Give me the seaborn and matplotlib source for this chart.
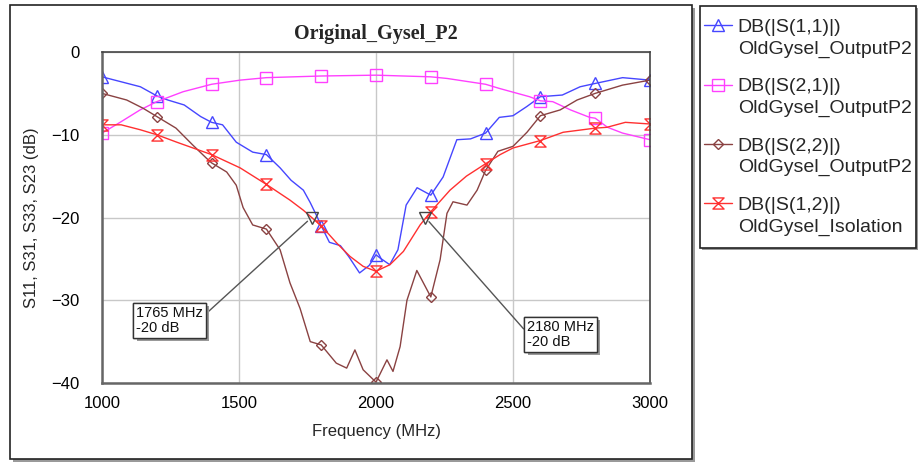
import numpy as np
import pandas as pd
import matplotlib
matplotlib.use("Agg")
import matplotlib.pyplot as plt
import seaborn as sns
from matplotlib.path import Path
from matplotlib.patches import Rectangle
from matplotlib.legend_handler import HandlerLine2D
import matplotlib.patheffects as pe

# ---------------- data ----------------
marker_grid = [1000, 1200, 1400, 1600, 1800, 2000, 2200, 2400, 2600, 2800, 3000]

freq_s11 = [1000, 1070, 1140, 1200, 1240, 1300, 1360, 1400, 1440, 1490, 1550, 1600,
            1650, 1690, 1735, 1760, 1785, 1800, 1830, 1870, 1900, 1940, 1975, 2000,
            2015, 2050, 2080, 2110, 2150, 2200, 2245, 2295, 2345, 2400, 2450, 2500,
            2550, 2600, 2680, 2745, 2800, 2900, 3000]
db_s11 = [-3.0, -3.6, -4.2, -5.3, -5.8, -6.4, -7.8, -8.5, -8.8, -10.9, -12.1, -12.4,
          -14.0, -15.5, -16.7, -18.2, -19.9, -21.0, -23.0, -23.4, -24.7, -26.7, -25.8, -24.5,
          -24.9, -25.7, -23.9, -18.5, -16.4, -17.3, -15.1, -10.6, -10.5, -9.8, -7.9, -7.7,
          -6.6, -5.4, -5.2, -4.2, -3.8, -3.1, -3.4]

freq_s21 = [1000, 1066, 1139, 1200, 1296, 1400, 1504, 1600, 1700, 1800, 1900, 2000,
            2100, 2200, 2260, 2320, 2400, 2450, 2560, 2600, 2645, 2710, 2780, 2800,
            2845, 2900, 3000]
db_s21 = [-9.8, -8.5, -7.0, -6.0, -4.8, -3.9, -3.4, -3.1, -3.0, -2.9, -2.85, -2.8,
          -2.9, -3.0, -3.2, -3.5, -3.9, -4.4, -5.4, -5.9, -6.0, -7.0, -7.9, -8.0,
          -9.1, -9.8, -10.6]

freq_s22 = [1000, 1090, 1150, 1200, 1270, 1330, 1380, 1400, 1455, 1490, 1515, 1550,
            1600, 1650, 1686, 1723, 1760, 1800, 1855, 1893, 1923, 1953, 2000, 2040,
            2062, 2088, 2113, 2149, 2200, 2234, 2259, 2281, 2332, 2369, 2400, 2445,
            2500, 2551, 2600, 2672, 2734, 2800, 2900, 3000]
db_s22 = [-5.0, -5.8, -6.8, -7.8, -9.2, -11.2, -12.8, -13.4, -14.5, -16.1, -18.8, -20.9,
          -21.4, -23.9, -27.9, -31.0, -35.0, -35.4, -37.6, -38.2, -36.0, -38.4, -39.9, -37.2,
          -38.6, -35.6, -30.0, -26.4, -29.6, -25.1, -19.5, -18.1, -18.5, -16.7, -14.3, -12.0,
          -11.4, -9.7, -7.7, -7.0, -5.8, -5.0, -4.0, -3.4]

freq_s12 = [1000, 1070, 1140, 1200, 1273, 1400, 1504, 1600, 1686, 1734, 1800, 1857,
            1905, 1953, 2000, 2051, 2100, 2161, 2200, 2270, 2330, 2400, 2453, 2500,
            2600, 2683, 2800, 2843, 2910, 3000]
db_s12 = [-8.8, -8.8, -9.4, -10.0, -10.9, -12.4, -14.0, -16.0, -17.9, -19.1, -21.0, -23.1,
          -24.7, -25.9, -26.5, -25.7, -24.1, -20.9, -19.3, -16.7, -15.0, -13.5, -12.4, -11.6,
          -10.7, -9.7, -9.2, -9.1, -8.5, -8.7]

labels = ["DB(|S(1,1)|)\nOldGysel_OutputP2",
          "DB(|S(2,1)|)\nOldGysel_OutputP2",
          "DB(|S(2,2)|)\nOldGysel_OutputP2",
          "DB(|S(1,2)|)\nOldGysel_Isolation"]

point_freqs = [1765, 2180]
point_vals = [-20, -20]
point_texts = ["1765 MHz\n-20 dB", "2180 MHz\n-20 dB"]
text_freqs = [1124, 2551]
text_vals = [-32.4, -34.1]

xticks = [1000, 1500, 2000, 2500, 3000]
yticks = [-40, -30, -20, -10, 0]

# ---------------- style ----------------
sns.set_style("white")
plt.rcParams["font.family"] = ["Liberation Sans", "DejaVu Sans"]
plt.rcParams["font.size"] = 12

W, H = 919, 462
fig = plt.figure(figsize=(W / 100, H / 100), dpi=100)
fig.patch.set_facecolor("white")

def fx(px):
    return px / W

def fy(py):
    return 1 - py / H

# outer frame with shadow
fig.add_artist(Rectangle((fx(13), fy(462)), fx(692 - 10), (459 - 5) / H,
                         transform=fig.transFigure, fc="#9a9a9a", ec="none", zorder=0))
fig.add_artist(Rectangle((fx(10), fy(459)), fx(692 - 10), (459 - 5) / H,
                         transform=fig.transFigure, fc="white", ec="#222222", lw=1.2, zorder=0.1))
# legend frame with shadow
fig.add_artist(Rectangle((fx(702), fy(250)), fx(916 - 700), (248 - 6) / H,
                         transform=fig.transFigure, fc="#9a9a9a", ec="none", zorder=0))
fig.add_artist(Rectangle((fx(700), fy(248)), fx(916 - 700), (248 - 6) / H,
                         transform=fig.transFigure, fc="white", ec="#222222", lw=1.2, zorder=0.1))

ax = fig.add_axes([fx(102), fy(383), fx(650 - 102), (383 - 52) / H])
ax.set_facecolor("white")
ax.set_zorder(1)

hourglass = Path([(-1, 1), (1, 1), (-1, -1), (1, -1), (-1, 1)],
                 [Path.MOVETO, Path.LINETO, Path.LINETO, Path.LINETO, Path.CLOSEPOLY])

series = [
    (freq_s11, db_s11, "#4646ff", "^", 8),
    (freq_s21, db_s21, "#ff40ff", "s", 9),
    (freq_s22, db_s22, "#8a4242", "D", 5.5),
    (freq_s12, db_s12, "#ff3030", hourglass, 8),
]

for (fr, db, col, mk, ms), lab in zip(series, labels):
    df = pd.DataFrame({"f": fr, "db": db})
    idx = [i for i, v in enumerate(fr) if v in marker_grid]
    sns.lineplot(data=df, x="f", y="db", ax=ax, color=col, lw=1.0, estimator=None,
                 sort=False, marker=mk, markersize=ms, markevery=idx,
                 markerfacecolor="none", markeredgecolor=col, markeredgewidth=1.0,
                 label=lab, legend=False)

# marker points with annotation boxes
ax.plot(point_freqs, point_vals, linestyle="none", marker="v", markersize=8,
        markerfacecolor="none", markeredgecolor="#444444", markeredgewidth=1.0, zorder=5)
for pf, pv, tx, tf, tv, rp in zip(point_freqs, point_vals, point_texts, text_freqs,
                                  text_vals, [(1.0, 0.62), (0.0, 0.55)]):
    t = ax.annotate(tx, xy=(pf, pv), xytext=(tf, tv), ha="left", va="center",
                    fontsize=10.5, color="#111111", linespacing=1.1,
                    bbox=dict(boxstyle="square,pad=0.2", fc="white", ec="#333333", lw=1),
                    arrowprops=dict(arrowstyle="-", color="#555555", lw=1, relpos=rp,
                                    shrinkA=0, shrinkB=4),
                    zorder=6)
    t.get_bbox_patch().set_path_effects([pe.withSimplePatchShadow(offset=(2.5, -2.5),
                                                                  shadow_rgbFace="#999999",
                                                                  alpha=1.0), pe.Normal()])

ax.set_xlim(1000, 3000)
ax.set_ylim(-40, 0)
ax.set_xticks(xticks)
ax.set_yticks(yticks)
ax.grid(True, color="#c8c8c8", lw=1)
ax.tick_params(axis="both", length=0, labelsize=12, colors="black")
ax.tick_params(axis="x", pad=9)
ax.tick_params(axis="y", pad=16)
for s in ["left", "bottom"]:
    ax.spines[s].set_color("#666666")
    ax.spines[s].set_linewidth(1.8)
for s in ["top", "right"]:
    ax.spines[s].set_color("#444444")
    ax.spines[s].set_linewidth(1.2)

ax.set_xlabel("Frequency (MHz)", fontsize=12, labelpad=10)
ax.set_ylabel("S11, S31, S33, S23 (dB)", fontsize=12, labelpad=9)
ax.set_title("Original_Gysel_P2", fontsize=14.5, fontweight="bold",
             family=["Liberation Serif", "DejaVu Serif"], pad=9)


class FirstLineHandler(HandlerLine2D):
    """Place the legend handle beside the first line of a two-line label."""
    def __init__(self, shift=0.7, **kw):
        super().__init__(**kw)
        self._shift = shift

    def create_artists(self, legend, orig_handle, xdescent, ydescent, width, height,
                       fontsize, trans):
        arts = super().create_artists(legend, orig_handle, xdescent, ydescent, width,
                                      height, fontsize, trans)
        for a in arts:
            a.set_ydata(np.asarray(a.get_ydata(), dtype=float) + self._shift * fontsize)
        return arts


handles, labs = ax.get_legend_handles_labels()
leg = fig.legend(handles, labs, loc="upper left", bbox_to_anchor=(fx(704), fy(19)),
                 frameon=False, fontsize=14, handlelength=1.45, handletextpad=0.28,
                 labelspacing=1.05, borderaxespad=0, borderpad=0,
                 handler_map={type(handles[0]): FirstLineHandler(shift=0.66)})
for txt in leg.get_texts():
    txt.set_linespacing(1.36)

fig.savefig("out.png", dpi=100, facecolor="white")
